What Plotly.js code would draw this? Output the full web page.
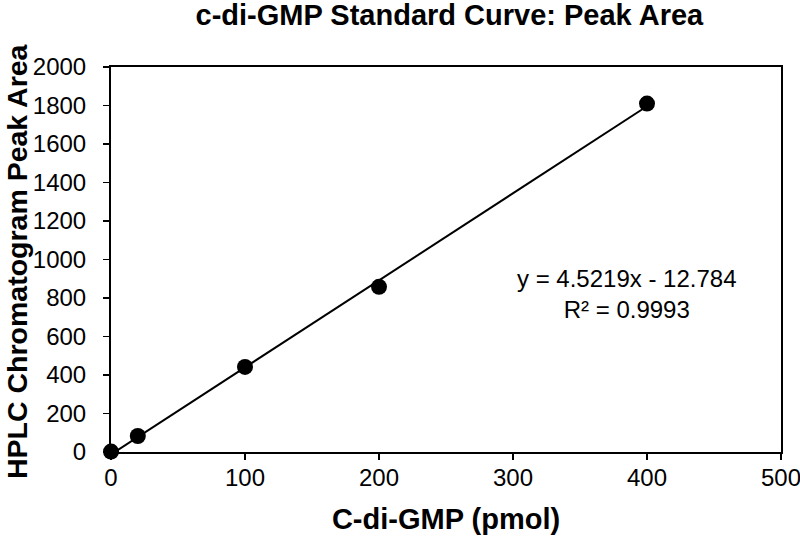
<!DOCTYPE html>
<html>
<head>
<meta charset="utf-8">
<script src="https://cdn.plot.ly/plotly-3.0.1.min.js"></script>
<style>
html,body{margin:0;padding:0;background:#fff}
#chart{width:800px;height:536px}
</style>
</head>
<body>
<div id="chart"></div>
<script>
const amounts = [0, 20, 100, 200, 400];
const peakAreas = [2, 83, 442, 858, 1810];
const slope = 4.5219;
const intercept = -12.784;
const equationText = "y = 4.5219x - 12.784<br>R² = 0.9993";
const yTitleText = "<b>HPLC Chromatogram Peak Area</b>";
const xTicks = [0, 100, 200, 300, 400, 500];
const yTicks = [0, 200, 400, 600, 800, 1000, 1200, 1400, 1600, 1800, 2000];

const fitX = [Math.min(...amounts), Math.max(...amounts)];
const fitY = fitX.map(x => slope * x + intercept);

const font = "'Liberation Sans', Arial, sans-serif";

const data = [
  {x: fitX, y: fitY, mode: 'lines', line: {color: '#000', width: 2}, hoverinfo: 'skip', showlegend: false, cliponaxis: false},
  {x: amounts, y: peakAreas, mode: 'markers', marker: {color: '#000', size: 16}, showlegend: false, cliponaxis: false}
];

const layout = {
  width: 800, height: 536,
  margin: {l: 111, r: 19, t: 67, b: 84},
  paper_bgcolor: '#fff', plot_bgcolor: '#fff',
  font: {family: font, color: '#000'},
  title: {text: '<b>c-di-GMP Standard Curve: Peak Area</b>', font: {size: 29, family: font, color: '#000'},
          xref: 'paper', x: 0.505, xanchor: 'center', yref: 'container', y: 0.972, yanchor: 'middle'},
  xaxis: {
    range: [0, 500], tickvals: xTicks, ticks: 'outside', ticklen: 6, tickwidth: 1.5, tickcolor: '#000',
    showgrid: false, zeroline: false, showline: true, linecolor: '#000', linewidth: 2, mirror: true,
    tickfont: {size: 24, family: font}, automargin: false, ticklabeloverflow: 'allow', ticklabelstandoff: -3,
    title: {text: '<b>C-di-GMP (pmol)</b>', font: {size: 29, family: font}, standoff: 19}
  },
  yaxis: {
    range: [0, 2000], tickvals: yTicks, ticks: 'outside', ticklen: 6, tickwidth: 1.5, tickcolor: '#000',
    showgrid: false, zeroline: false, showline: true, linecolor: '#000', linewidth: 2, mirror: true,
    tickfont: {size: 24, family: font}, ticklabelstandoff: 12, automargin: false, ticklabeloverflow: 'allow'
  },
  annotations: [
    {x: 385, y: 821, xref: 'x', yref: 'y', text: equationText, showarrow: false,
     font: {size: 24, family: font, color: '#000'}, align: 'center', xanchor: 'center', yanchor: 'middle'},
    {x: 0, y: 0.496, xref: 'paper', yref: 'paper', xshift: -94, text: yTitleText, textangle: -90, showarrow: false,
     font: {size: 28.5, family: font, color: '#000'}, xanchor: 'center', yanchor: 'middle'}
  ]
};

Plotly.newPlot('chart', data, layout, {displayModeBar: false, staticPlot: true});
</script>
</body>
</html>
